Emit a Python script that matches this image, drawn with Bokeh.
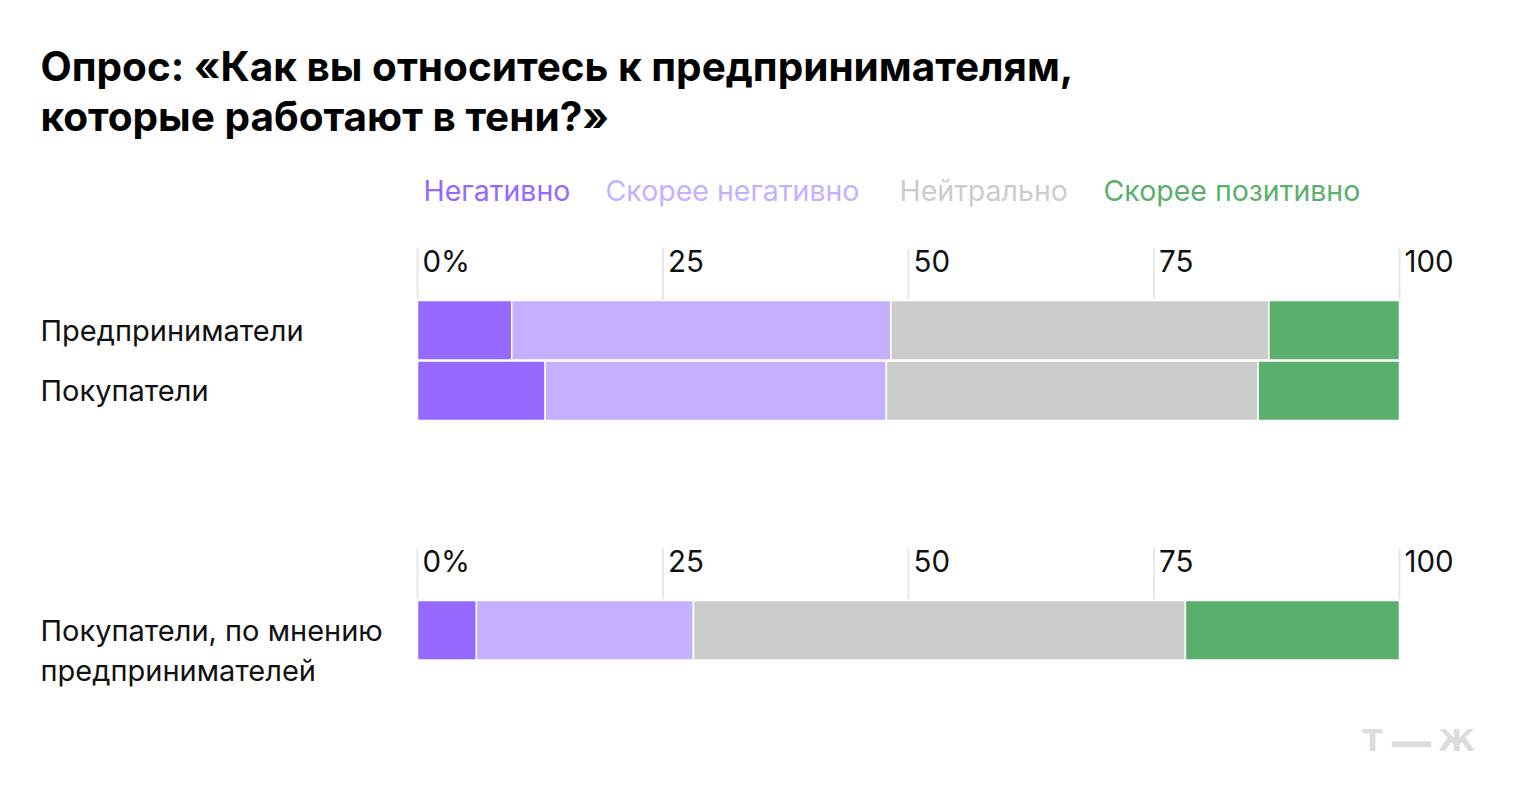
from bokeh.plotting import figure
from bokeh.models import Range1d, Label, ColumnDataSource
from bokeh.core.properties import value
from bokeh.embed import file_html
from bokeh.resources import INLINE
import numpy as np

# ---------------- data ----------------
title_lines = ["Опрос: «Как вы относитесь к предпринимателям,", "которые работают в тени?»"]
series = ["Негативно", "Скорее негативно", "Нейтрально", "Скорее позитивно"]
colors = ["#9568FF", "#C5B0FF", "#CCCCCC", "#5BAF6C"]

panel1_categories = ["Предприниматели", "Покупатели"]
panel1_values = {
    "Негативно":        [9.6, 13.0],
    "Скорее негативно": [38.6, 34.75],
    "Нейтрально":       [38.5, 37.85],
    "Скорее позитивно": [13.3, 14.4],
}
panel2_categories = ["Покупатели, по мнению\nпредпринимателей"]
panel2_values = {
    "Негативно":        [6.0],
    "Скорее негативно": [22.1],
    "Нейтрально":       [50.1],
    "Скорее позитивно": [21.8],
}
tick_values = [0, 25, 50, 75, 100]
tick_labels = ["0%", "25", "50", "75", "100"]
watermark = ["Т", "—", "Ж"]

# ---------------- layout ----------------
W, H = 1520, 810
X0_PX, X100_PX = 417, 1399
scale = (X100_PX - X0_PX) / 100.0
FONT = "Inter"

p = figure(width=W, height=H, output_backend="svg", toolbar_location=None,
           x_range=Range1d(-X0_PX / scale, (W - X0_PX) / scale),
           y_range=Range1d(H, 0), min_border=0)
p.axis.visible = False
p.grid.visible = False
p.outline_line_color = None
p.background_fill_color = "white"
p.border_fill_color = "white"

# title
for i, t in enumerate(title_lines):
    p.add_layout(Label(x=40, x_units="screen", y=66 + i * 50, y_units="data", text=t,
                       text_font=FONT, text_font_size="40.5px", text_font_style="bold",
                       text_color="#000000", text_baseline="middle", text_align="left"))

# legend
legend_x = [423, 605, 899, 1103]
for name, c, lx in zip(series, colors, legend_x):
    p.add_layout(Label(x=lx, x_units="screen", y=190, y_units="data", text=name,
                       text_font=FONT, text_font_size="28.5px", text_color=c,
                       text_baseline="middle", text_align="left"))

def draw_panel(cats, vals, axis_y, first_bar_center, bar_h=59.5):
    # grid lines and tick labels
    p.segment(x0=tick_values, x1=tick_values, y0=[axis_y - 12] * len(tick_values),
              y1=[first_bar_center - bar_h / 2 - 1] * len(tick_values),
              line_color="#E6E6E6", line_width=2)
    p.text(x=tick_values, y=[axis_y] * len(tick_values), text=tick_labels,
           x_offset=5, text_font=value(FONT), text_font_size="29.5px",
           text_color="#111111", text_baseline="middle", text_align="left")
    centers = [first_bar_center + i * (bar_h + 1) for i in range(len(cats))]
    left = np.zeros(len(cats))
    for name, c in zip(series, colors):
        v = np.array(vals[name], dtype=float)
        src = ColumnDataSource(dict(y=centers, left=left.copy(), right=left + v))
        p.hbar(y="y", left="left", right="right", height=bar_h, source=src,
               fill_color=c, line_color="white", line_width=1.5)
        left = left + v
    # category labels
    for cy, cat in zip(centers, cats):
        lines = cat.split("\n")
        for j, ln in enumerate(lines):
            p.add_layout(Label(x=40, x_units="screen", y=cy + j * 40, y_units="data",
                               text=ln, text_font=FONT, text_font_size="29px",
                               text_color="#111111", text_baseline="middle",
                               text_align="left"))

draw_panel(panel1_categories, panel1_values, 260, 329.7)
draw_panel(panel2_categories, panel2_values, 560, 629.7)

# watermark
for ch, cx, fs in zip(watermark, [1372, 1411, 1456], ["30px", "44px", "30px"]):
    p.add_layout(Label(x=cx, x_units="screen", y=740, y_units="data", text=ch,
                       text_font="DejaVu Sans", text_font_size=fs, text_font_style="bold",
                       text_color="#DCDCDC", text_baseline="middle", text_align="center"))

open("out.html", "w").write(file_html(p, INLINE))
